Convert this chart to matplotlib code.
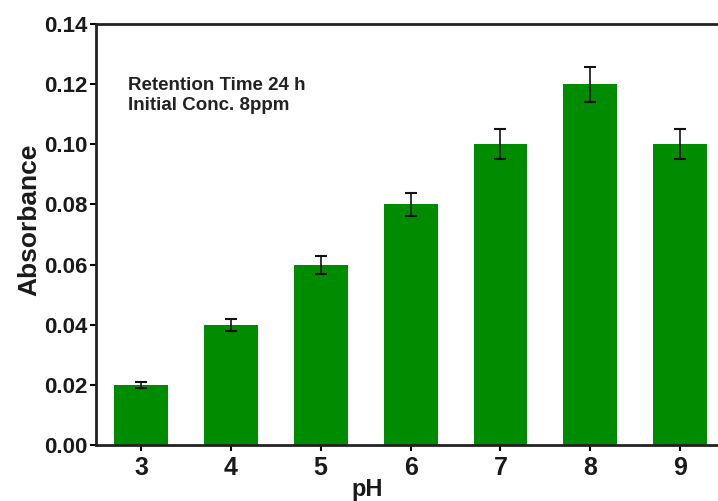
import matplotlib
matplotlib.use('Agg')
import matplotlib.pyplot as plt

plt.rcParams['font.family'] = ['Liberation Sans', 'DejaVu Sans']
plt.rcParams['font.weight'] = 'bold'

ph = [3, 4, 5, 6, 7, 8, 9]
absorbance = [0.02, 0.04, 0.06, 0.08, 0.10, 0.12, 0.10]
err = [0.001, 0.002, 0.003, 0.0037, 0.005, 0.0058, 0.005]
yticks = [0.00, 0.02, 0.04, 0.06, 0.08, 0.10, 0.12, 0.14]

fig = plt.figure(figsize=(7.18, 5.01), dpi=100)
ax = fig.add_axes([96 / 718, 56 / 501, 1 - 96 / 718, 421 / 501])

ax.bar(ph, absorbance, width=0.6, color='#008c00', zorder=2)
ax.errorbar(ph, absorbance, yerr=err, fmt='none', ecolor='#111111',
            elinewidth=1.2, capsize=4, capthick=1.5, zorder=3)

ax.set_xlim(2.5, 9.42)
ax.set_ylim(0, 0.14)
ax.set_xticks(ph)
ax.set_yticks(yticks)
ax.set_yticklabels([f'{v:.2f}' for v in yticks])

for s in ['left', 'bottom', 'top']:
    ax.spines[s].set_linewidth(2)
    ax.spines[s].set_color('#222222')
ax.spines['right'].set_visible(False)

ax.tick_params(axis='x', labelsize=18, length=4, width=1.5, pad=4,
               labelcolor='#1a1a1a')
ax.tick_params(axis='y', labelsize=16, length=4, width=1.5, pad=2,
               labelcolor='#1a1a1a')

ax.set_ylabel('Absorbance', fontsize=19, fontweight='bold', color='#1a1a1a')
ax.yaxis.set_label_coords(-0.088, 0.535)
ax.set_xlabel('pH', fontsize=17, fontweight='bold', color='#1a1a1a')
ax.xaxis.set_label_coords(0.436, -0.078)

ax.text(2.856, 0.1224, 'Retention Time 24 h\nInitial Conc. 8ppm',
        fontsize=13.5, fontweight='bold', color='#222222', va='top',
        linespacing=1.25)

fig.savefig('out.png', dpi=100)
